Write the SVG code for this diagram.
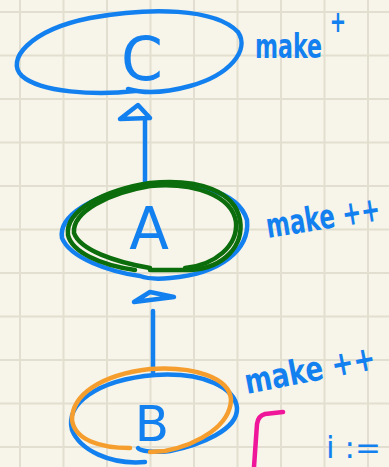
<svg xmlns="http://www.w3.org/2000/svg" width="389" height="467" viewBox="0 0 389 467">
<style>
.grid line{stroke:#e3dfd0;stroke-width:2}
.b{fill:none;stroke:#1380f0;stroke-width:4.5;stroke-linecap:round;stroke-linejoin:round}
.g{fill:none;stroke:#0b6d0b;stroke-width:4.5;stroke-linecap:round}
.o{fill:none;stroke:#f59e2e;stroke-width:4.5;stroke-linecap:round}
.p{fill:none;stroke:#f0169a;stroke-width:4.5;stroke-linecap:round;stroke-linejoin:round}
.lbl{font-family:"DejaVu Sans",sans-serif;font-weight:bold;fill:#1380f0}
.nd{font-family:"DejaVu Sans",sans-serif;fill:#1380f0;text-anchor:middle}
.eq{font-family:"DejaVu Sans",sans-serif;fill:#1380f0}
</style>
<rect width="389" height="467" fill="#f7f4e9"/>
<g class="grid">
<line x1="20" y1="0" x2="20" y2="467"/><line x1="63.5" y1="0" x2="63.5" y2="467"/><line x1="107" y1="0" x2="107" y2="467"/><line x1="150.5" y1="0" x2="150.5" y2="467"/><line x1="194" y1="0" x2="194" y2="467"/><line x1="237.5" y1="0" x2="237.5" y2="467"/><line x1="281" y1="0" x2="281" y2="467"/><line x1="324.5" y1="0" x2="324.5" y2="467"/><line x1="368" y1="0" x2="368" y2="467"/>
<line x1="0" y1="12" x2="389" y2="12"/><line x1="0" y1="55.5" x2="389" y2="55.5"/><line x1="0" y1="99" x2="389" y2="99"/><line x1="0" y1="142.5" x2="389" y2="142.5"/><line x1="0" y1="186" x2="389" y2="186"/><line x1="0" y1="229.5" x2="389" y2="229.5"/><line x1="0" y1="273" x2="389" y2="273"/><line x1="0" y1="316.5" x2="389" y2="316.5"/><line x1="0" y1="360" x2="389" y2="360"/><line x1="0" y1="403.5" x2="389" y2="403.5"/><line x1="0" y1="447" x2="389" y2="447"/>
</g>
<g id="connectors">
<path class="b" d="M145 184 L145 120"/>
<path class="b" d="M120 119 L138 105 L150 118 Z"/>
<path class="b" d="M153 372 L153 311"/>
<path class="b" d="M134 302 L150 292 L174 297 Z"/>
</g>
<g id="node-C">
<path class="b" d="M135 91 C95 96 40 92 22 76 C5 60 30 30 90 18 C150 7 215 8 238 32 C250 50 230 75 190 86 C165 93 145 94 128 89"/>
<text class="nd" x="142" y="80" font-size="60">C</text>
</g>
<g id="node-A">
<path class="b" d="M140 276 C110 272 70 258 62 238 C58 215 95 195 140 186 C190 180 238 190 247 220 C250 250 220 274 170 278 C160 279 148 279 140 276"/>
<path class="g" d="M135 270 C100 265 72 252 68 235 C65 210 105 190 150 183 C200 178 235 192 240 220 C244 245 225 268 190 270 L150 270"/>
<path class="g" d="M150 268 C115 262 80 250 74 233 C72 212 108 193 150 186 C195 182 232 196 236 222 C238 246 215 265 185 268"/>
<text class="nd" x="149" y="249" font-size="58">A</text>
</g>
<g id="node-B">
<path class="b" d="M145 462 C110 465 80 450 72 430 C65 405 95 380 155 375 C205 372 235 388 237 408 C238 430 200 445 170 451 C155 453 140 451 138 448"/>
<path class="o" d="M130 448 C100 448 75 440 72 420 C72 395 100 375 150 369 C195 366 230 378 231 400 C230 425 200 444 165 451 L150 452"/>
<text class="nd" x="152" y="441" font-size="50">B</text>
</g>
<g id="labels">
<text class="lbl" x="0" y="0" font-size="34" transform="translate(255 58) scale(0.65 1)">make<tspan dx="12" dy="-26" font-size="30">+</tspan></text>
<text class="lbl" x="0" y="0" font-size="34" transform="translate(268 238) rotate(-9) scale(0.67 1)">make ++</text>
<text class="lbl" x="0" y="0" font-size="34" transform="translate(247 394) rotate(-11) scale(0.77 1)">make ++</text>
<path class="p" d="M283 412 L265 414 Q258 416 257 424 L254 467"/>
<text class="eq" x="326" y="458" font-size="31">i :=</text>
</g>
</svg>
